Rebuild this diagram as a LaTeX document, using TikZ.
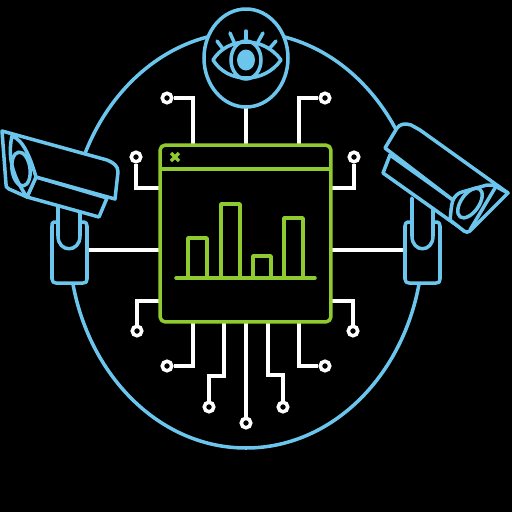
\documentclass[tikz,border=0pt]{standalone}
\definecolor{camblue}{HTML}{6CC5EC}
\definecolor{wingreen}{HTML}{8FCB2E}
\tikzset{
    blueline/.style={draw=camblue,line width=2pt,line join=round,line cap=round},
    greenline/.style={draw=wingreen,line width=2pt,line join=round},
    wire/.style={draw=white,line width=2pt,line join=miter},
    terminal/.style={circle,draw=white,line width=2pt,fill=black,inner sep=0pt,minimum size=0.19cm}
}
\begin{document}
\begin{tikzpicture}[x=0.02cm,y=-0.02cm]
    \fill[black] (0,0) rectangle (512,512);
    \useasboundingbox (0,0) rectangle (512,512);

    \draw[blueline] (246,240) ellipse (177 and 208);

    \node [terminal] (ta) at (167,98) {};
    \node [terminal] (tb) at (325,98) {};
    \node [terminal] (tc) at (136,157) {};
    \node [terminal] (td) at (354,157) {};
    \node [terminal] (te) at (137,331) {};
    \node [terminal] (tf) at (353,331) {};
    \node [terminal] (tg) at (167,366) {};
    \node [terminal] (th) at (325,366) {};
    \node [terminal] (ti) at (209,407) {};
    \node [terminal] (tj) at (283,407) {};
    \node [terminal] (tk) at (246,423) {};

    \coordinate (wa) at (193,145);
    \coordinate (wb) at (299,145);
    \coordinate (wc) at (160,188);
    \coordinate (wd) at (331,188);
    \coordinate (we) at (160,301);
    \coordinate (wf) at (331,301);
    \coordinate (wg) at (193,322);
    \coordinate (wh) at (299,322);
    \coordinate (wi) at (224,322);
    \coordinate (wj) at (268,322);
    \coordinate (wk) at (246,322);
    \coordinate (wl) at (246,145);
    \coordinate (wm) at (160,250);
    \coordinate (wn) at (331,250);
    \coordinate (eyebase) at (246,107);
    \coordinate (leftmount) at (87,250);
    \coordinate (rightmount) at (405,250);

    \draw[wire] (wa) |- (ta);
    \draw[wire] (wb) |- (tb);
    \draw[wire] (wc) -| (tc);
    \draw[wire] (wd) -| (td);
    \draw[wire] (we) -| (te);
    \draw[wire] (wf) -| (tf);
    \draw[wire] (wg) |- (tg);
    \draw[wire] (wh) |- (th);
    \draw[wire] (wi) -- (224,376) -| (ti);
    \draw[wire] (wj) -- (268,375) -| (tj);
    \draw[wire] (wk) -- (tk);
    \draw[wire] (eyebase) -- (wl);
    \draw[wire] (leftmount) -- (wm);
    \draw[wire] (rightmount) -- (wn);

    \node [greenline,fill=black,rounded corners=3pt,minimum width=3.42cm,minimum height=3.54cm,inner sep=0pt,outer sep=0pt] (win) at (245.5,233.5) {};
    \draw[greenline] (160,169) -- (331,169);
    \draw[greenline] (171,153) -- (179,161);
    \draw[greenline] (179,153) -- (171,161);
    \draw[greenline] (188,278) -- (188,238) -- (207,238) -- (207,278);
    \draw[greenline] (221,278) -- (221,204) -- (240,204) -- (240,278);
    \draw[greenline] (253,278) -- (253,256) -- (271,256) -- (271,278);
    \draw[greenline] (284,278) -- (284,218) -- (303,218) -- (303,278);
    \draw[greenline,line cap=round] (176,278) -- (315,278);

    \draw[blueline,fill=black] (246,58) ellipse (42 and 49);
    \draw[blueline] (213,60) .. controls (228,36) and (264,36) .. (281,60) .. controls (264,84) and (228,84) .. (213,60) -- cycle;
    \draw[blueline] (246,60) ellipse (15 and 19);
    \fill[camblue] (246,60) ellipse (9 and 10.5);
    \draw[blueline] (217,41) -- (223,49);
    \draw[blueline] (230,33) -- (234,42);
    \draw[blueline] (246,31) -- (246,39);
    \draw[blueline] (263,33) -- (258,42);
    \draw[blueline] (276,41) -- (269,49);

    \draw[blueline,fill=black] (58,222) -- (54,222) .. controls (52,222) and (52,224) .. (52,226) -- (52,279) .. controls (52,282) and (54,283) .. (56,283) -- (83,283) .. controls (86,283) and (87,282) .. (87,279) -- (87,226) .. controls (87,224) and (86,222) .. (84,222) -- (80,222);
    \draw[blueline,fill=black] (58,200) -- (58,236) .. controls (58,253) and (80,253) .. (80,236) -- (80,205);
    \draw[blueline,fill=black] (36,177) -- (107,198) -- (99,217) -- (27,197) -- cycle;
    \draw[blueline,fill=black] (2,131) -- (107,160) .. controls (114,163) and (118,166) .. (118,172) -- (115,199) -- (36,177) -- (27,197) -- (9,189) .. controls (6,188) and (6,186) .. (6,184) -- cycle;
    \draw[blueline] (12,136) .. controls (9,150) and (8,170) .. (27,197);
    \draw[blueline] (12,136) .. controls (24,140) and (31,160) .. (36,177);
    \draw[blueline,rotate around={8:(21,169)}] (21,169) ellipse (9 and 17);

    \draw[blueline,fill=black] (412,222) -- (408,222) .. controls (406,222) and (405,224) .. (405,226) -- (405,279) .. controls (405,282) and (407,283) .. (409,283) -- (436,283) .. controls (439,283) and (440,282) .. (440,279) -- (440,226) .. controls (440,224) and (439,222) .. (437,222) -- (433,222);
    \draw[blueline,fill=black] (412,198) -- (412,236) .. controls (412,253) and (433,253) .. (433,236) -- (433,205);
    \draw[blueline,fill=black] (390,155) -- (383,173) -- (452,222) -- (467,232) -- (478,220) -- (453,200) -- cycle;
    \draw[blueline,fill=black] (385,148) -- (397,128) .. controls (400,124) and (405,123) .. (411,125) -- (420,130) -- (508,193) -- (470,231) .. controls (468,233) and (466,232) .. (464,231) -- (450,220) .. controls (451,212) and (451,206) .. (453,200) -- cycle;
    \draw[blueline] (453,200) .. controls (455,196) and (458,193) .. (462,192) -- (487,185) -- (493,185);
    \draw[blueline] (495,188) -- (470,230);
    \draw[blueline,rotate around={-35:(470,203)}] (470,203) ellipse (9 and 17);
    \draw[blueline] (493,185) -- (508,193);
\end{tikzpicture}
\end{document}
